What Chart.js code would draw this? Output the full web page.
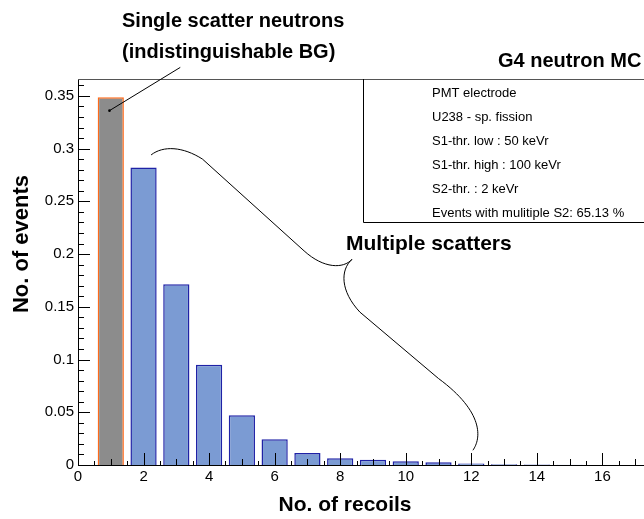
<!DOCTYPE html>
<html>
<head>
<meta charset="utf-8">
<script src="https://cdn.jsdelivr.net/npm/chart.js@4/dist/chart.umd.min.js"></script>
<style>
  html, body { margin: 0; padding: 0; background: #fff; }
  #wrap { width: 644px; height: 519px; }
</style>
</head>
<body>
<div id="wrap"><canvas id="recoilChart" width="644" height="519"></canvas></div>
<script>
// number of recoils per neutron (bin centres) and fraction of events
const recoils = [1, 2, 3, 4, 5, 6, 7, 8, 9, 10, 11, 12, 13, 14, 15];
const fractions = [0.3487, 0.282, 0.1714, 0.095, 0.0472, 0.0244, 0.0114, 0.0064, 0.005, 0.0035, 0.0026, 0.0014, 0.0008, 0.0004, 0.0003];
const xTicks = [0, 2, 4, 6, 8, 10, 12, 14, 16];
const yTicks = [0, 0.05, 0.1, 0.15, 0.2, 0.25, 0.3, 0.35];
const infoLines = [
    "PMT electrode",
    "U238 - sp. fission",
    "S1-thr. low : 50 keVr",
    "S1-thr. high : 100 keVr",
    "S2-thr. : 2 keVr",
    "Events with mulitiple S2: 65.13 %"
];

const FONT = "'Liberation Sans', Arial, Helvetica, sans-serif";
const singleFill = "#8c8c8c";
const singleLine = "#ff6a1a";
const multiFill = "#7b9bd3";
const multiLine = "#1f22a6";

// ROOT style frame, inward ticks and annotations
const rootDecor = {
    id: "rootDecor",
    afterDatasetsDraw(chart) {
        const ctx = chart.ctx;
        const area = chart.chartArea;
        const xs = chart.scales.x;
        const ys = chart.scales.y;
        ctx.save();

        // ticks
        ctx.strokeStyle = "#000";
        ctx.lineWidth = 1;
        ctx.beginPath();
        for (let v = 0; v <= xs.max + 1e-9; v += 0.5) {
            const px = Math.round(xs.getPixelForValue(v)) + 0.5;
            let len = 4;
            if (Math.abs(v % 2) < 1e-6) len = 12;
            else if (Math.abs(v % 1) < 1e-6) len = 6;
            ctx.moveTo(px, area.bottom);
            ctx.lineTo(px, area.bottom - len);
        }
        for (let i = 0; i <= 36; i++) {
            const v = i * 0.01;
            if (v > ys.max) break;
            const py = Math.round(ys.getPixelForValue(v)) + 0.5;
            const len = (i % 5 === 0) ? 12 : 6;
            ctx.moveTo(area.left, py);
            ctx.lineTo(area.left + len, py);
        }
        ctx.stroke();

        // frame
        ctx.beginPath();
        ctx.moveTo(area.left + 0.5, area.top);
        ctx.lineTo(area.left + 0.5, area.bottom + 0.5);
        ctx.lineTo(area.right, area.bottom + 0.5);
        ctx.stroke();
        ctx.strokeStyle = "#555";
        ctx.beginPath();
        ctx.moveTo(area.left, area.top + 0.5);
        ctx.lineTo(area.right, area.top + 0.5);
        ctx.stroke();

        // info box
        ctx.fillStyle = "#fff";
        ctx.fillRect(363, area.top + 1, area.right - 363, 222 - area.top);
        ctx.strokeStyle = "#000";
        ctx.beginPath();
        ctx.moveTo(363.5, area.top);
        ctx.lineTo(363.5, 222.5);
        ctx.lineTo(area.right, 222.5);
        ctx.stroke();
        ctx.fillStyle = "#000";
        ctx.font = "13px " + FONT;
        ctx.textAlign = "left";
        ctx.textBaseline = "middle";
        infoLines.forEach((t, i) => ctx.fillText(t, 432, 93 + i * 24.1));

        // text annotations
        ctx.font = "bold 20px " + FONT;
        ctx.textBaseline = "alphabetic";
        ctx.fillText("Single scatter neutrons", 122, 27);
        ctx.fillText("(indistinguishable BG)", 122, 58);
        ctx.fillText("G4 neutron MC", 498, 67);
        ctx.font = "bold 21px " + FONT;
        ctx.fillText("Multiple scatters", 346, 250);

        // axis titles
        ctx.font = "bold 21px " + FONT;
        ctx.textAlign = "center";
        ctx.fillText("No. of recoils", 345, 511);
        ctx.save();
        ctx.translate(28, 244);
        ctx.rotate(-Math.PI / 2);
        ctx.font = "bold 22px " + FONT;
        ctx.fillText("No. of events", 0, 0);
        ctx.restore();

        // pointer to the single scatter bin
        const P = (x, y) => [xs.getPixelForValue(x), ys.getPixelForValue(y)];
        ctx.lineWidth = 1;
        ctx.strokeStyle = "#000";
        const a = P(3.12, 0.377), b = P(0.96, 0.336);
        ctx.beginPath();
        ctx.moveTo(a[0], a[1]);
        ctx.lineTo(b[0], b[1]);
        ctx.stroke();
        ctx.beginPath();
        ctx.arc(b[0], b[1], 1.3, 0, Math.PI * 2);
        ctx.fill();

        // curly brace over the multiple scatter bins
        const p = [
            P(2.23, 0.294), P(2.6, 0.303), P(3.2, 0.302), P(3.8, 0.29),
            P(6.9, 0.203), P(7.5, 0.186), P(8.1, 0.186), P(8.36, 0.195)
        ];
        const q = [
            P(8.36, 0.195), P(8.0, 0.185), P(8.0, 0.165), P(8.6, 0.145),
            P(11.0, 0.082), P(12.4, 0.05), P(12.3, 0.025), P(12.05, 0.014)
        ];
        ctx.beginPath();
        [p, q].forEach(c => {
            ctx.moveTo(c[0][0], c[0][1]);
            ctx.bezierCurveTo(c[1][0], c[1][1], c[2][0], c[2][1], c[3][0], c[3][1]);
            ctx.lineTo(c[4][0], c[4][1]);
            ctx.bezierCurveTo(c[5][0], c[5][1], c[6][0], c[6][1], c[7][0], c[7][1]);
        });
        ctx.stroke();

        ctx.restore();
    }
};

new Chart(document.getElementById("recoilChart"), {
    type: "bar",
    data: {
        datasets: [{
            data: recoils.map((r, i) => ({x: r, y: fractions[i]})),
            backgroundColor: recoils.map(r => r === 1 ? singleFill : multiFill),
            borderColor: recoils.map(r => r === 1 ? singleLine : multiLine),
            borderWidth: 1.5,
            categoryPercentage: 0.8,
            barPercentage: 1.0
        }]
    },
    options: {
        responsive: false,
        devicePixelRatio: 1,
        animation: false,
        layout: {padding: {top: 79, left: 0, right: 0, bottom: 0}},
        plugins: {legend: {display: false}, tooltip: {enabled: false}},
        scales: {
            x: {
                type: "linear",
                min: 0,
                max: 17.27,
                offset: false,
                grid: {display: false, drawTicks: false},
                border: {display: false},
                afterBuildTicks: s => { s.ticks = xTicks.map(v => ({value: v})); },
                afterFit: s => { s.height = 54; },
                ticks: {
                    padding: 3,
                    maxRotation: 0,
                    autoSkip: false,
                    color: "#000",
                    font: {family: FONT, size: 15},
                    callback: v => String(v)
                }
            },
            y: {
                min: 0,
                max: 0.366,
                grid: {display: false, drawTicks: false},
                border: {display: false},
                afterBuildTicks: s => { s.ticks = yTicks.map(v => ({value: v})); },
                afterFit: s => { s.width = 78; },
                ticks: {
                    padding: 4,
                    autoSkip: false,
                    color: "#000",
                    font: {family: FONT, size: 15},
                    callback: v => String(+v.toFixed(2))
                }
            }
        }
    },
    plugins: [rootDecor]
});
</script>
</body>
</html>
